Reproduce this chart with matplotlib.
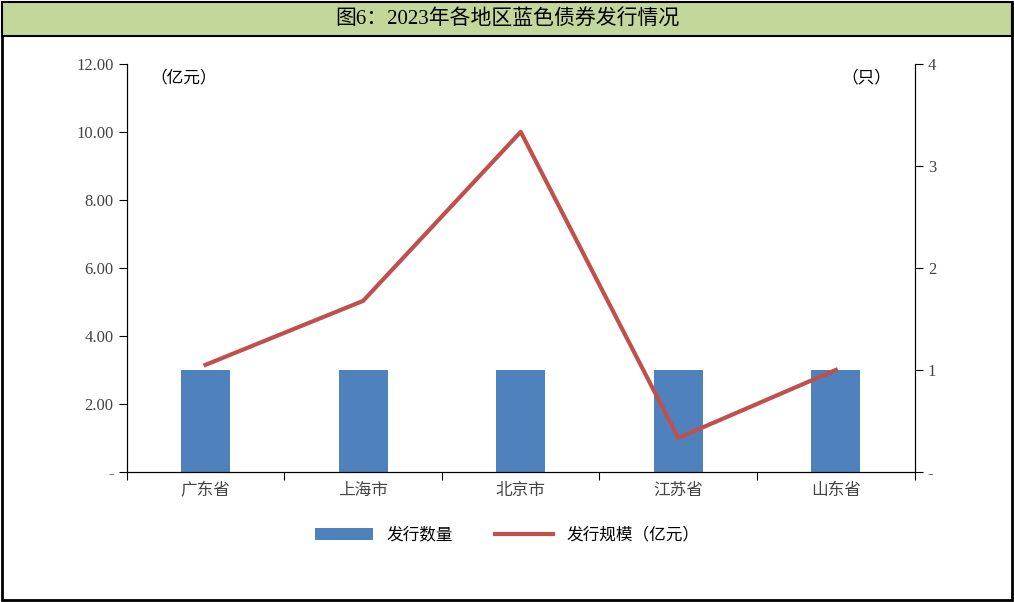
import matplotlib
matplotlib.use("Agg")
import matplotlib.pyplot as plt
from matplotlib.patches import Rectangle

categories = ["广东省", "上海市", "北京市", "江苏省", "山东省"]
count = [1, 1, 1, 1, 1]
scale = [3.15, 5.03, 10.0, 1.0, 3.0]
title = "图6：2023年各地区蓝色债券发行情况"

plt.rcParams['font.family'] = ['Liberation Serif', 'Noto Sans CJK SC']
fig = plt.figure(figsize=(10.14, 6.02), dpi=100)
fig.patches.append(Rectangle((0.002, 0.003), 0.996, 0.994, transform=fig.transFigure,
                             fill=False, ec='black', lw=2))
fig.patches.append(Rectangle((0.002, 0.94), 0.996, 0.057, transform=fig.transFigure,
                             fc='#C4D79B', ec='black', lw=1.5))
fig.text(0.5, 0.968, title, ha='center', va='center', fontsize=15)

ax = fig.add_axes([0.125, 0.216, 0.777, 0.678])
ax2 = ax.twinx()
x = list(range(len(categories)))
ax2.bar(x, count, width=0.31, color='#4F81BD', label='发行数量', zorder=1)
ax.plot(x, scale, color='#C0504D', lw=3, label='发行规模（亿元）', zorder=3)
ax.set_zorder(ax2.get_zorder() + 1)
ax.patch.set_visible(False)

ax.set_xlim(-0.5, 4.5)
ax.set_ylim(0, 12)
ax2.set_ylim(0, 4)
ax.set_yticks(range(0, 13, 2))
ax.set_yticklabels(['-'] + [f"{v:.2f}" for v in range(2, 13, 2)])
ax2.set_yticks(range(5))
ax2.set_yticklabels(['-', '1', '2', '3', '4'])
ax.set_xticks([i + 0.5 for i in range(-1, 5)], minor=False)
ax.set_xticklabels([])
ax.set_xticks(x, minor=True)
ax.set_xticklabels(categories, minor=True, fontsize=12, color='#444444')
ax.tick_params(axis='x', which='minor', length=0, pad=8)
ax.tick_params(axis='x', which='major', length=6, direction='out')
for a in (ax, ax2):
    a.tick_params(axis='y', labelsize=12, direction='out', length=6, colors='black')
    a.spines['top'].set_visible(False)
ax.tick_params(axis='y', labelcolor='#444444')
ax2.tick_params(axis='y', labelcolor='#444444')
ax.text(0.03, 0.985, "（亿元）", transform=ax.transAxes, fontsize=12, va='top')
ax.text(0.97, 0.985, "（只）", transform=ax.transAxes, fontsize=12, va='top', ha='right')

h1, l1 = ax2.get_legend_handles_labels()
h2, l2 = ax.get_legend_handles_labels()
fig.legend(h1 + h2, l1 + l2, loc='center', bbox_to_anchor=(0.5, 0.11), ncol=2,
           frameon=False, fontsize=12, handlelength=3.5, columnspacing=2.5)
fig.savefig("out.png", dpi=100)
